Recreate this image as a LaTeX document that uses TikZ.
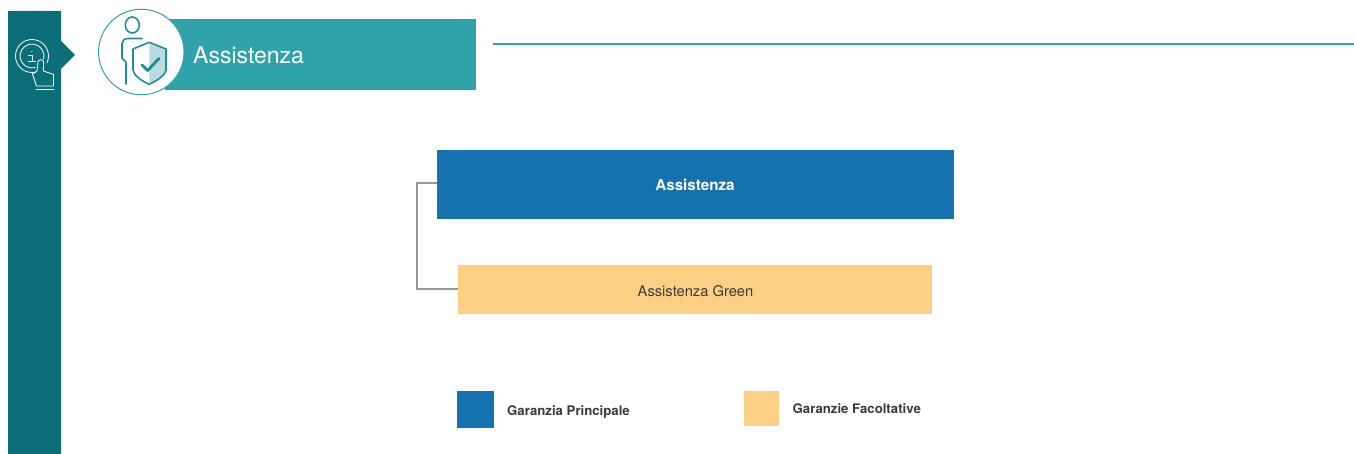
\documentclass[tikz,border=0pt]{standalone}
\usepackage{fontspec}
\setmainfont{TeX Gyre Heros}
\definecolor{sidebar}{HTML}{0C6E78}
\definecolor{teal}{HTML}{30A3AA}
\definecolor{tealdark}{HTML}{1E8F98}
\definecolor{rulecol}{HTML}{2AA6AD}
\definecolor{blu}{HTML}{1672AE}
\definecolor{sand}{HTML}{FCD084}
\definecolor{lnk}{HTML}{96989A}
\definecolor{ink}{HTML}{3A3A3A}
\definecolor{pale}{HTML}{B9DADF}
\tikzset{
  x=1pt,y=-1pt,
  box/.style={draw=none,inner sep=0pt,anchor=north west,align=center},
  link/.style={draw=lnk,line width=2pt},
  icoW/.style={draw=white,line width=0.8pt,line cap=round,line join=round},
  icoT/.style={draw=tealdark,line width=1.6pt,line cap=round,line join=round},
  legend/.style={font=\fontsize{13.2}{15}\selectfont\bfseries,text=ink,anchor=west,inner sep=0pt},
}
\begin{document}
\begin{tikzpicture}
\useasboundingbox (0,0) rectangle (1354,454);
% sidebar
\fill[sidebar] (8,11) -- (61,11) -- (61,41) -- (75,55) -- (61,69) -- (61,454) -- (8,454) -- cycle;
% sidebar icon: rings
\draw[icoW] (32,56) ++(65:16.5) arc[start angle=65,end angle=385,radius=16.5];
\draw[icoW] (32,56) ++(75:12) arc[start angle=75,end angle=375,radius=12];
% i
\draw[icoW] (28.5,55) -- (32.3,55) -- (32.3,61.5) (28.3,61.5) -- (35.7,61.5);
\draw[icoW] (31.7,51.5) -- (32,51.5);
% hand
\fill[sidebar] (38,62) -- (43.5,62) -- (43.5,72) -- (36,74) -- cycle;
\draw[icoW] (37,71) -- (32.5,74) -- (36.5,86) -- (53.5,86) -- (53.5,74.5) -- (43.5,71) -- (43.5,62)
  .. controls (43.5,59) and (38,59) .. (38,62) -- (37,71);
\draw[icoW] (36,89.5) -- (54,89.5);
% header
\node[box,fill=teal,minimum width=311pt,minimum height=71pt] (header) at (165,19) {};
\node[draw=teal,line width=1pt,fill=white,circle,minimum size=85.5pt,inner sep=0pt] (badge) at (141.3,52) {};
\node[inner sep=0pt,anchor=west,text=white,font=\fontsize{23}{27}\selectfont] (title) at (193,55.5) {Assistenza};
\fill[rulecol] (493,43) rectangle (1354,45);
% badge icon
\fill[pale] (149.3,42.3) -- (166,49) -- (166,70) .. controls (165,76) and (156,81) .. (149.3,84.3) -- cycle;
\draw[icoT] (132.3,25) ellipse (7 and 8);
\draw[icoT] (142,38.5) -- (128,38.5) .. controls (124,38.5) and (122,41) .. (122,44) -- (122,58) .. controls (122,60) and (126,60) .. (126,63) -- (126,84);
\draw[icoT] (149.3,42.3) -- (166,49) -- (166,70) .. controls (165,76) and (156,81) .. (149.3,84.3)
  .. controls (142,81) and (134,76) .. (133,70) -- (133,49) -- cycle;
\draw[tealdark,line width=2.8pt,line cap=round,line join=round] (142,65) -- (147.7,70.5) -- (159,58.5);
% boxes
\node[box,fill=blu,minimum width=517pt,minimum height=69pt] (main) at (437,150) {};
\node[inner sep=0pt,text=white,font=\fontsize{15.2}{17}\selectfont\bfseries] (mainlabel) at (695,185) {Assistenza};
\node[box,fill=sand,minimum width=474pt,minimum height=49pt] (green) at (458,265) {};
\node[inner sep=0pt,text=ink,font=\fontsize{14.7}{17}\selectfont] (greenlabel) at (695.5,291) {Assistenza Green};
% connector
\coordinate (elbowA) at (417,183.5);
\coordinate (elbowB) at (417,289);
\draw[link] (main.west |- elbowA) -- (elbowA) -- (elbowB) -- (green.west |- elbowB);
% legend
\node[box,fill=blu,minimum width=37pt,minimum height=37pt] (legA) at (457,391) {};
\node[legend] (legAt) at (507,412) {Garanzia Principale};
\node[box,fill=sand,minimum width=35pt,minimum height=35pt] (legB) at (744,391) {};
\node[legend] (legBt) at (792.5,409) {Garanzie Facoltative};
\end{tikzpicture}
\end{document}
